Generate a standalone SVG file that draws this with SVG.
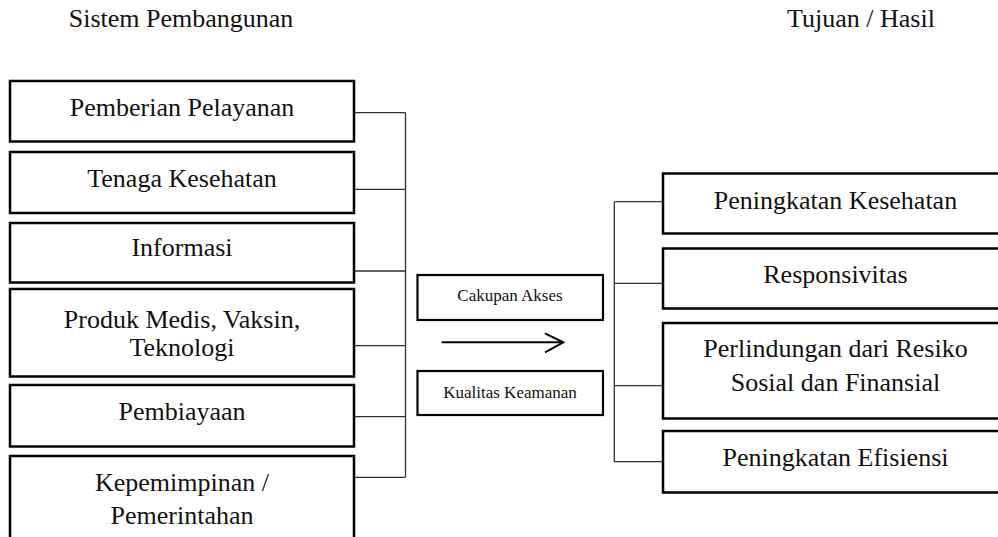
<svg xmlns="http://www.w3.org/2000/svg" width="998" height="537" viewBox="0 0 998 537">
<style>
  .box { fill: #ffffff; stroke: #000000; stroke-width: 2.5; }
  .sbox { fill: #ffffff; stroke: #000000; stroke-width: 2.2; }
  .t { font-family: "Liberation Serif", "Times New Roman", serif; font-size: 26px; fill: #111111; text-anchor: middle; }
  .ts { font-family: "Liberation Serif", "Times New Roman", serif; font-size: 17px; fill: #111111; text-anchor: middle; }
  .conn { fill: none; stroke: #333333; stroke-width: 1.3; }
  .arrow { fill: none; stroke: #000000; stroke-width: 2; }
</style>
<rect x="0" y="0" width="998" height="537" fill="#ffffff"/>

<g id="headers">
  <text class="t" x="181" y="27">Sistem Pembangunan</text>
  <text class="t" x="861" y="27">Tujuan / Hasil</text>
</g>

<g id="connectors">
  <path class="conn" d="M355 112.7 H405.5 M355 189.3 H405.5 M355 271 H405.5 M355 345.7 H405.5 M355 416.7 H405.5 M355 477.3 H405.5 M405.5 112.7 V477.3"/>
  <path class="conn" d="M614.3 201.7 V461.7 M614.3 201.7 H663 M614.3 283.3 H663 M614.3 385.7 H663 M614.3 461.7 H663"/>
  <path class="arrow" d="M441.7 342.3 H563"/>
  <path class="arrow" d="M545 333.3 L563.3 342.3 L545 352.3"/>
</g>

<g id="n-pemberian">
  <rect class="box" x="10" y="81" width="344" height="60.5"/>
  <text class="t" x="182" y="116">Pemberian Pelayanan</text>
</g>
<g id="n-tenaga">
  <rect class="box" x="10" y="152" width="344" height="61"/>
  <text class="t" x="182" y="187.3">Tenaga Kesehatan</text>
</g>
<g id="n-informasi">
  <rect class="box" x="10" y="223" width="344" height="59.5"/>
  <text class="t" x="182" y="255.7">Informasi</text>
</g>
<g id="n-produk">
  <rect class="box" x="10" y="289" width="344" height="87.5"/>
  <text class="t" x="182" y="328.3">Produk Medis, Vaksin,</text>
  <text class="t" x="182" y="356">Teknologi</text>
</g>
<g id="n-pembiayaan">
  <rect class="box" x="10" y="385" width="344" height="61.5"/>
  <text class="t" x="182" y="420">Pembiayaan</text>
</g>
<g id="n-kepemimpinan">
  <rect class="box" x="10" y="456" width="344" height="100"/>
  <text class="t" x="182" y="490.7">Kepemimpinan /</text>
  <text class="t" x="182" y="524">Pemerintahan</text>
</g>

<g id="n-cakupan">
  <rect class="sbox" x="417.5" y="275" width="185.5" height="45"/>
  <text class="ts" x="510" y="300.7">Cakupan Akses</text>
</g>
<g id="n-kualitas">
  <rect class="sbox" x="417.5" y="371" width="185.5" height="44"/>
  <text class="ts" x="510" y="398.3">Kualitas Keamanan</text>
</g>

<g id="n-peningkatan-kesehatan">
  <rect class="box" x="663" y="173.5" width="350" height="60"/>
  <text class="t" x="835.5" y="209.3">Peningkatan Kesehatan</text>
</g>
<g id="n-responsivitas">
  <rect class="box" x="663" y="248.5" width="350" height="60"/>
  <text class="t" x="835.5" y="283.3">Responsivitas</text>
</g>
<g id="n-perlindungan">
  <rect class="box" x="663" y="323" width="350" height="95.5"/>
  <text class="t" x="835.5" y="357.3">Perlindungan dari Resiko</text>
  <text class="t" x="835.5" y="390.7">Sosial dan Finansial</text>
</g>
<g id="n-efisiensi">
  <rect class="box" x="663" y="431" width="350" height="61.5"/>
  <text class="t" x="835.5" y="465.7">Peningkatan Efisiensi</text>
</g>
</svg>
